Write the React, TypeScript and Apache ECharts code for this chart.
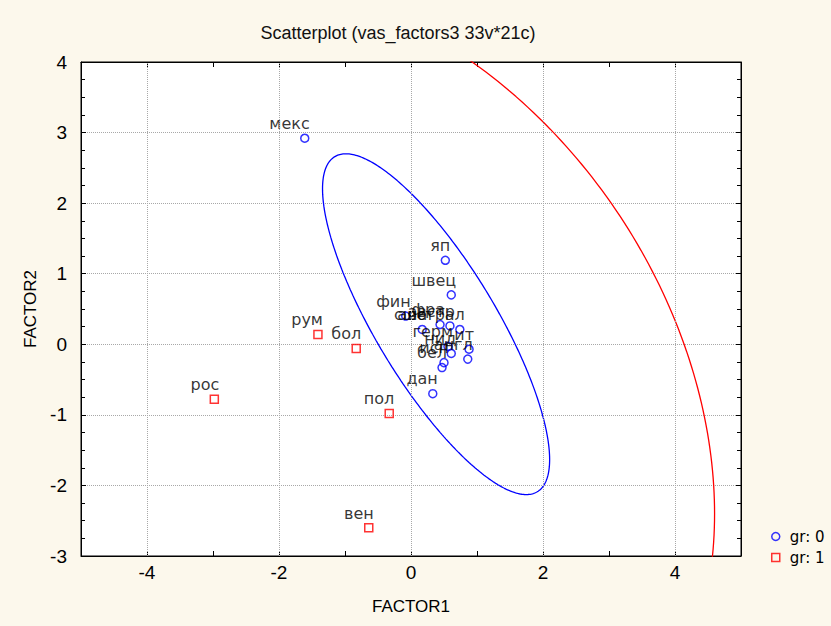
import React, { useEffect, useRef } from "react";
import * as echarts from "echarts";

// ---- data ----
const blueNames = ["мекс", "яп", "швец", "дан", "фин", "сша", "фра", "австр", "австрал", "герм", "нид", "ит", "англ", "исп", "бел"];
const blueX = [-1.61, 0.52, 0.61, 0.33, -0.08, 0.17, 0.44, 0.59, 0.74, 0.56, 0.61, 0.88, 0.86, 0.50, 0.47];
const blueY = [2.92, 1.19, 0.70, -0.70, 0.40, 0.21, 0.28, 0.26, 0.21, -0.03, -0.13, -0.07, -0.21, -0.26, -0.33];

const redNames = ["рум", "бол", "рос", "пол", "вен"];
const redX = [-1.41, -0.83, -2.98, -0.33, -0.64];
const redY = [0.14, -0.06, -0.78, -0.98, -2.60];

// confidence ellipses: centre [x, y] and covariance [sxx, sxy, syy]
const blueEllipseCenter = [0.38, 0.285];
const blueEllipseCov = [2.96, -3.3, 5.83];
const redEllipseCenter = [-1.24, -0.86];
const redEllipseCov = [34.1, -9.0, 36.6];

const xGridValues = [-4, -2, 0, 2, 4];
const seriesNames = ["gr: 0", "gr: 1"];
const titleText = "Scatterplot (vas_factors3 33v*21c)";

function ellipsePoints(center: number[], cov: number[], n = 360) {
  const l11 = Math.sqrt(cov[0]);
  const l21 = cov[1] / l11;
  const l22 = Math.sqrt(cov[2] - l21 * l21);
  const pts: number[][] = [];
  for (let i = 0; i <= n; i++) {
    const t = (i / n) * Math.PI * 2;
    const c = Math.cos(t);
    const s = Math.sin(t);
    pts.push([center[0] + l11 * c, center[1] + l21 * c + l22 * s]);
  }
  return pts;
}

const BLUE = "#0000ff";
const RED = "#ff0000";
const BG = "#fcf8ec";
const SANS = "'Liberation Sans', Arial, sans-serif";
const LABELFONT = "'DejaVu Sans', sans-serif";

export default function App() {
  const ref = useRef<HTMLDivElement>(null);
  useEffect(() => {
    if (!ref.current) return;
    const chart = echarts.init(ref.current, undefined, { renderer: "svg" });
    const pointLabel = {
      show: true,
      formatter: "{b}",
      position: "top",
      align: "right",
      offset: [5, 0],
      distance: 2,
      color: "#000",
      fontSize: 16,
      fontFamily: LABELFONT,
    };
    const axisX = (pos: "bottom" | "top") => ({
      type: "value",
      position: pos,
      min: -5,
      max: 5,
      interval: 1,
      axisLine: { show: true, onZero: false, lineStyle: { color: "#000", width: 1 } },
      axisTick: { show: true, inside: true, length: 5, lineStyle: { color: "#000" } },
      axisLabel: {
        show: pos === "bottom",
        formatter: (v: number) => (v % 2 === 0 ? String(v) : ""),
        color: "#000",
        fontSize: 19,
        fontFamily: SANS,
        margin: 7,
      },
      splitLine: { show: false },
      ...(pos === "bottom"
        ? {
            name: "FACTOR1",
            nameLocation: "middle",
            nameGap: 42,
            nameTextStyle: { color: "#000", fontSize: 17, fontFamily: SANS },
          }
        : {}),
    });
    const axisY = (pos: "left" | "right") => ({
      type: "value",
      position: pos,
      min: -3,
      max: 4,
      interval: 1,
      axisLine: { show: true, onZero: false, lineStyle: { color: "#000", width: 1 } },
      axisTick: { show: true, inside: true, length: 5, lineStyle: { color: "#000" } },
      minorTick: { show: true, splitNumber: 4, length: 4, lineStyle: { color: "#000" } },
      axisLabel: {
        show: pos === "left",
        color: "#000",
        fontSize: 19,
        fontFamily: SANS,
        margin: 14,
      },
      splitLine: {
        show: pos === "left",
        lineStyle: { color: "#a8a8a8", type: "dotted", width: 1 },
      },
      ...(pos === "left"
        ? {
            name: "FACTOR2",
            nameLocation: "middle",
            nameGap: 41,
            nameTextStyle: { color: "#000", fontSize: 17, fontFamily: SANS },
          }
        : {}),
    });
    chart.setOption({
      animation: false,
      backgroundColor: BG,
      textStyle: { fontFamily: SANS },
      graphic: [
        {
          type: "text",
          x: 398,
          y: 33,
          style: {
            text: titleText,
            align: "center",
            verticalAlign: "middle",
            fontSize: 18,
            fontFamily: SANS,
            fill: "#111",
          },
        },
      ],
      grid: {
        left: 81,
        right: 90,
        top: 62,
        bottom: 70,
        show: true,
        backgroundColor: "#ffffff",
        borderColor: "#000",
        borderWidth: 1,
      },
      xAxis: [axisX("bottom"), axisX("top")],
      yAxis: [axisY("left"), axisY("right")],
      legend: {
        orient: "vertical",
        left: 766,
        top: 524,
        itemWidth: 8,
        itemHeight: 8,
        itemGap: 6,
        textStyle: { fontSize: 15, fontFamily: LABELFONT, color: "#000", padding: [0, 0, 0, 5] },
        data: [
          {
            name: seriesNames[0],
            icon: "circle",
            itemStyle: { color: "rgba(0,0,0,0)", borderColor: BLUE, borderWidth: 1.5 },
          },
          {
            name: seriesNames[1],
            icon: "rect",
            itemStyle: { color: "rgba(0,0,0,0)", borderColor: RED, borderWidth: 1.5 },
          },
        ],
      },
      series: [
        {
          name: "ellipse0",
          type: "line",
          data: ellipsePoints(blueEllipseCenter, blueEllipseCov),
          showSymbol: false,
          silent: true,
          clip: true,
          lineStyle: { color: BLUE, width: 1.3 },
          markLine: {
            silent: true,
            symbol: "none",
            label: { show: false },
            lineStyle: { color: "#a8a8a8", type: "dotted", width: 1 },
            data: xGridValues.map((v) => ({ xAxis: v })),
          },
          z: 1,
        },
        {
          name: "ellipse1",
          type: "line",
          data: ellipsePoints(redEllipseCenter, redEllipseCov),
          showSymbol: false,
          silent: true,
          clip: true,
          lineStyle: { color: RED, width: 1.3 },
          z: 1,
        },
        {
          name: seriesNames[0],
          type: "scatter",
          symbol: "circle",
          symbolSize: 8,
          itemStyle: { color: "rgba(0,0,0,0)", borderColor: BLUE, borderWidth: 1.5 },
          label: pointLabel,
          data: blueX.map((x, i) => ({ value: [x, blueY[i]], name: blueNames[i] })),
          z: 3,
        },
        {
          name: seriesNames[1],
          type: "scatter",
          symbol: "rect",
          symbolSize: 8,
          itemStyle: { color: "rgba(0,0,0,0)", borderColor: RED, borderWidth: 1.5 },
          label: pointLabel,
          data: redX.map((x, i) => ({ value: [x, redY[i]], name: redNames[i] })),
          z: 3,
        },
      ],
    });
    return () => chart.dispose();
  }, []);
  return (
    <div
      ref={ref}
      style={{ position: "absolute", left: 0, top: 0, width: 831, height: 626, background: BG }}
    />
  );
}
